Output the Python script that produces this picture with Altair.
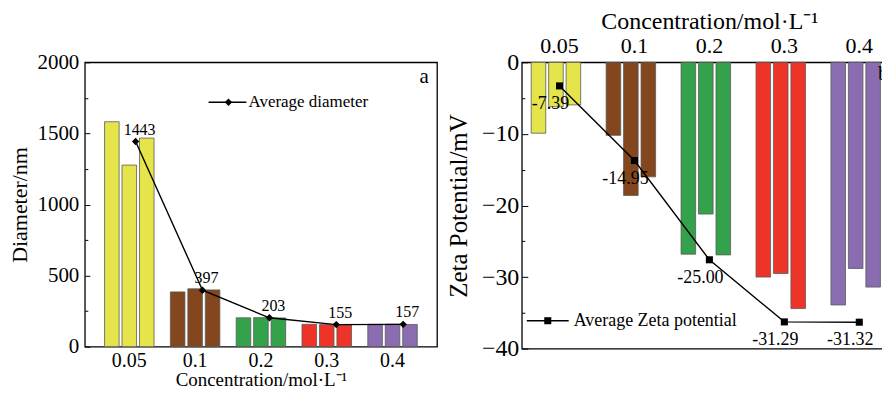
import altair as alt
import pandas as pd

FONT = "Liberation Serif"

conc = ["0.05", "0.1", "0.2", "0.3", "0.4"]
colors = ["#E5E54B", "#83461D", "#33A24A", "#EE3428", "#8A6CB0"]
samples = ["1", "2", "3"]

diam_1 = [1582, 385, 203, 157, 157]
diam_2 = [1277, 407, 204, 155, 158]
diam_3 = [1467, 399, 202, 153, 156]
avg_diam = [1443, 397, 203, 155, 157]

zeta_1 = [-9.9, -10.2, -26.8, -30.0, -33.9]
zeta_2 = [-6.2, -18.6, -21.2, -29.5, -28.8]
zeta_3 = [-5.95, -16.0, -26.9, -34.4, -31.4]
avg_zeta = [-7.39, -14.95, -25.00, -31.29, -31.32]
avg_zeta_text = ["-7.39", "-14.95", "-25.00", "-31.29", "-31.32"]

diam_ticks = [0, 500, 1000, 1500, 2000]
diam_minor = [250, 750, 1250, 1750]
zeta_ticks = [0, -10, -20, -30, -40]
zeta_minor = [-5, -15, -25, -35]

x_title = "Concentration/mol·L⁻¹"

rows = []
for i, c in enumerate(conc):
    for s, d, z in zip(samples, [diam_1[i], diam_2[i], diam_3[i]], [zeta_1[i], zeta_2[i], zeta_3[i]]):
        rows.append({"conc": c, "sample": s, "diameter": d, "zeta": z})
bar_df = pd.DataFrame(rows)
avg_df = pd.DataFrame({"conc": conc, "avg_diam": avg_diam, "avg_zeta": avg_zeta, "zeta_txt": avg_zeta_text})
one = pd.DataFrame({"k": [0]})

color_enc = alt.Color("conc:N", scale=alt.Scale(domain=conc, range=colors), legend=None)

# ---------------- panel a ----------------
W_A, H_A = 353, 285
bars_a = alt.Chart(bar_df).mark_bar(stroke="#5a5a5a", strokeWidth=0.8).encode(
    x=alt.X("conc:N", sort=conc, scale=alt.Scale(paddingInner=0.248, paddingOuter=0.3),
            axis=alt.Axis(title=x_title, labelAngle=0, ticks=False, domain=False, grid=False,
                          labelPadding=4, titlePadding=0, labelFontSize=20, titleFontSize=19)),
    xOffset=alt.XOffset("sample:N", scale=alt.Scale(paddingInner=0.166, paddingOuter=0)),
    y=alt.Y("diameter:Q", scale=alt.Scale(domain=[0, 2000], nice=False),
            axis=alt.Axis(values=diam_ticks, format="d", title="Diameter/nm", orient="left", offset=-5, tickSize=5,
                          domain=False, grid=False, labelPadding=6, titlePadding=5,
                          labelFontSize=21, titleFontSize=22)),
    color=color_enc,
)
minor_a = alt.Chart(pd.DataFrame({"v": diam_minor})).mark_point(opacity=0).encode(
    y=alt.Y("v:Q", scale=alt.Scale(domain=[0, 2000], nice=False),
            axis=alt.Axis(values=diam_minor, orient="left", labels=False, title=None, offset=-3,
                          tickSize=3, domain=False, grid=False)),
)
xa = alt.X("conc:O", sort=conc, scale=alt.Scale(type="point", padding=0.633, align=0.6), axis=None)
ya = alt.Y("avg_diam:Q", scale=alt.Scale(domain=[0, 2000], nice=False), axis=None)
line_a = alt.Chart(avg_df).mark_line(color="black", strokeWidth=1.4).encode(x=xa, y=ya)
pts_a = alt.Chart(avg_df).mark_point(shape="diamond", filled=True, size=55, color="black", opacity=1).encode(x=xa, y=ya)
lbl_a = alt.Chart(avg_df).mark_text(font=FONT, fontSize=16, dx=4, dy=-12, color="black").encode(
    x=xa, y=ya, text=alt.Text("avg_diam:Q"))
leg_rule_a = alt.Chart(one).mark_rule(color="black", strokeWidth=1.4).encode(
    x=alt.value(124), x2=alt.value(162), y=alt.value(40))
leg_pt_a = alt.Chart(one).mark_point(shape="diamond", filled=True, size=55, color="black", opacity=1).encode(
    x=alt.value(144), y=alt.value(40))
leg_txt_a = alt.Chart(one).mark_text(font=FONT, fontSize=17, align="left", baseline="middle", color="black").encode(
    x=alt.value(164), y=alt.value(40), text=alt.value("Average diameter"))
tag_a = alt.Chart(one).mark_text(font=FONT, fontSize=21, align="center", baseline="middle", color="black").encode(
    x=alt.value(340), y=alt.value(15), text=alt.value("a"))

panel_a = alt.layer(bars_a, minor_a, line_a, pts_a, lbl_a, leg_rule_a, leg_pt_a, leg_txt_a, tag_a).resolve_scale(
    x="independent").resolve_axis(y="independent").properties(width=W_A, height=H_A)

# ---------------- panel b ----------------
W_B, H_B = 376, 287
xb = alt.X("conc:N", sort=conc, scale=alt.Scale(paddingInner=0.244, paddingOuter=0.125),
           axis=alt.Axis(title=x_title, orient="top", labelAngle=0, ticks=False, domain=False, grid=False,
                         labelPadding=5, titlePadding=1, labelFontSize=22, titleFontSize=24))
bars_b = alt.Chart(bar_df).mark_bar(stroke="#5a5a5a", strokeWidth=0.8).encode(
    x=xb,
    xOffset=alt.XOffset("sample:N", scale=alt.Scale(paddingInner=0.2, paddingOuter=0)),
    y=alt.Y("zeta:Q", scale=alt.Scale(domain=[-40, 0], nice=False),
            axis=alt.Axis(values=zeta_ticks, title="Zeta Potential/mV", orient="left", offset=-6, tickSize=6,
                          domain=False, grid=False, labelPadding=3, titlePadding=10,
                          labelFontSize=24, titleFontSize=25)),
    color=color_enc,
)
minor_b = alt.Chart(pd.DataFrame({"v": zeta_minor})).mark_point(opacity=0).encode(
    y=alt.Y("v:Q", scale=alt.Scale(domain=[-40, 0], nice=False),
            axis=alt.Axis(values=zeta_minor, orient="left", labels=False, title=None, offset=-3,
                          tickSize=3, domain=False, grid=False)),
)
xb2 = alt.X("conc:N", sort=conc)
yb = alt.Y("avg_zeta:Q", scale=alt.Scale(domain=[-34, -5], nice=False, zero=False), axis=None)
line_b = alt.Chart(avg_df).mark_line(color="black", strokeWidth=1.4).encode(x=xb2, y=yb)
pts_b = alt.Chart(avg_df).mark_point(shape="square", filled=True, size=50, color="black", opacity=1).encode(x=xb2, y=yb)
lbl_b = alt.Chart(avg_df).mark_text(font=FONT, fontSize=18, dx=-9, dy=18, color="black").encode(
    x=xb2, y=yb, text=alt.Text("zeta_txt:N"))
leg_rule_b = alt.Chart(one).mark_rule(color="black", strokeWidth=1.4).encode(
    x=alt.value(5), x2=alt.value(47), y=alt.value(259))
leg_pt_b = alt.Chart(one).mark_point(shape="square", filled=True, size=50, color="black", opacity=1).encode(
    x=alt.value(26), y=alt.value(259))
leg_txt_b = alt.Chart(one).mark_text(font=FONT, fontSize=18, align="left", baseline="middle", color="black").encode(
    x=alt.value(52), y=alt.value(259), text=alt.value("Average Zeta potential"))
tag_b = alt.Chart(one).mark_text(font=FONT, fontSize=21, align="left", baseline="middle", color="black").encode(
    x=alt.value(357), y=alt.value(12), text=alt.value("b"))

panel_b = alt.layer(bars_b, minor_b, line_b, pts_b, lbl_b, leg_rule_b, leg_pt_b, leg_txt_b, tag_b).resolve_scale(
    y="independent").properties(width=W_B, height=H_B)

chart = alt.hconcat(panel_a, panel_b, spacing=85, bounds="flush").properties(
    padding={"left": 0, "top": 0, "right": -16, "bottom": -2}, background="white"
).configure_view(stroke="black", strokeWidth=1.3).configure_axis(
    labelFont=FONT, titleFont=FONT, labelColor="black", titleColor="black", tickColor="black",
    titleFontWeight="normal", tickWidth=1
)

chart.save("out.html", embed_options={"renderer": "svg", "actions": False})
